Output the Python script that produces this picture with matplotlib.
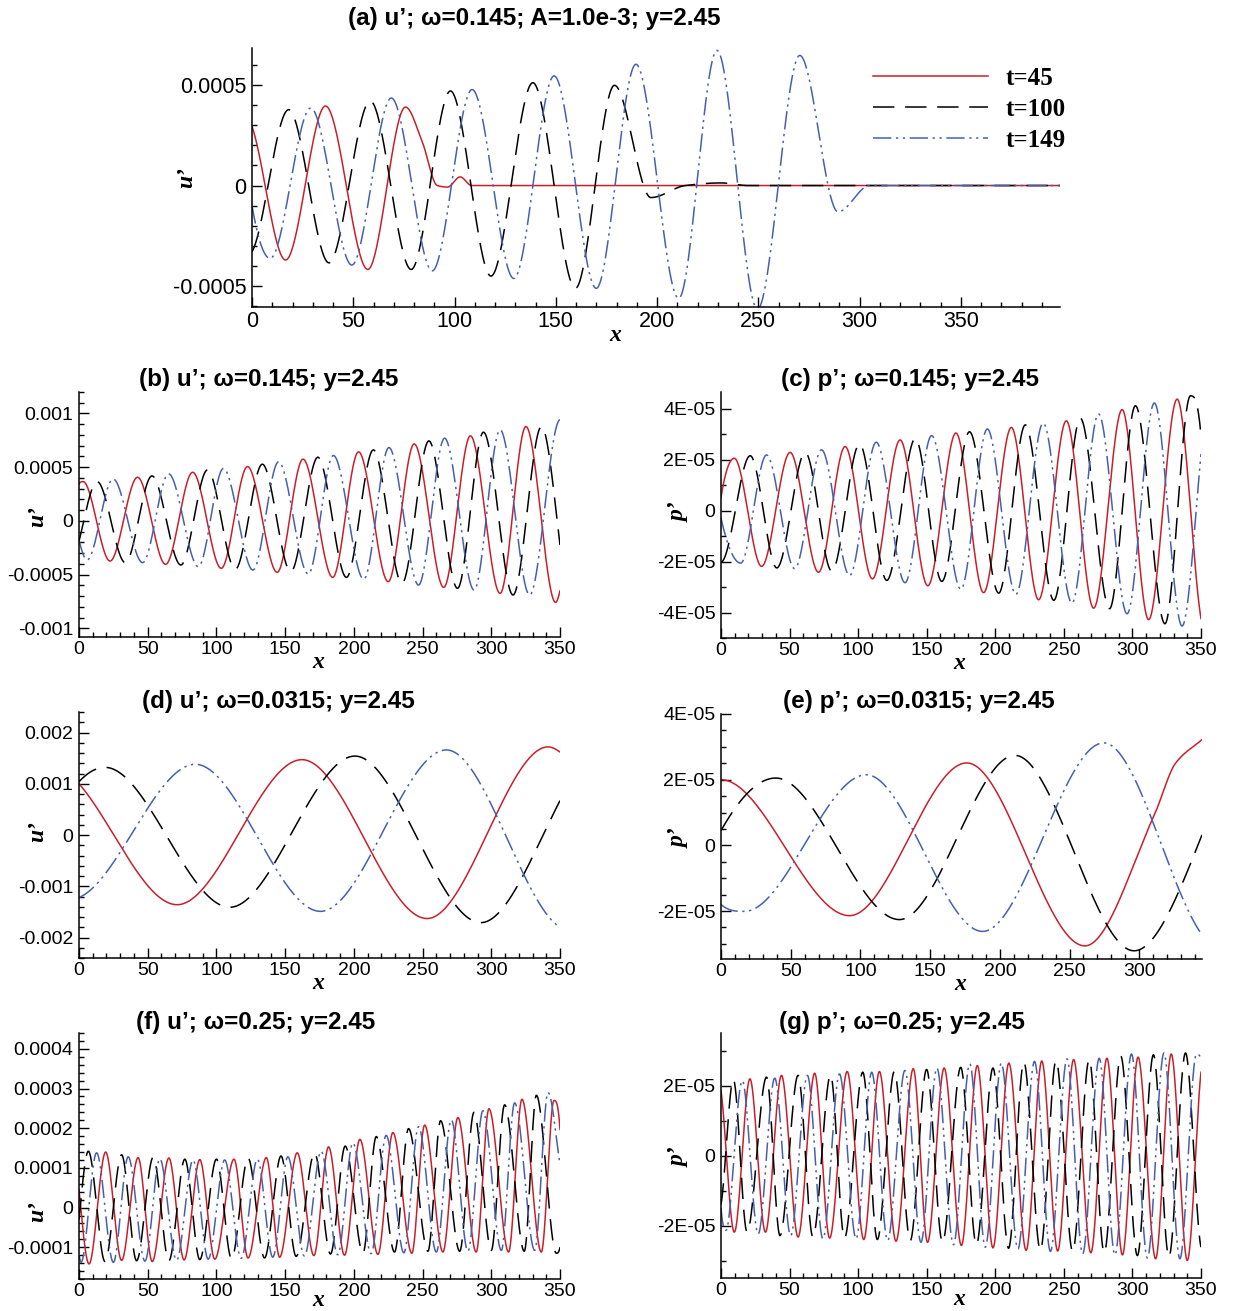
import numpy as np
import matplotlib
matplotlib.use("Agg")
import matplotlib.pyplot as plt
from matplotlib.ticker import MultipleLocator

# Extrema (x, value) of each profile. Values are in the panel's unit (scale below).

# (a) u', omega=0.145, A=1.0e-3, units of 1e-4
a_t45 = [(0, 2.95), (16.6, -3.71), (36.3, 3.96), (57.2, -4.18), (75.8, 3.91), (84.0, 2.2),
         (91.5, 0.0), (96.5, -0.08), (102.8, 0.43), (108.5, 0.0), (399, 0.0)]
a_t100 = [(0, -3.3), (18.1, 3.78), (38.0, -3.85), (58.4, 4.21), (78.6, -4.18), (98.0, 4.71),
          (118.0, -4.51), (138.7, 5.12), (159.7, -5.12), (179.0, 4.99), (197.0, -0.6),
          (214.0, 0.0), (231.6, 0.13), (245.0, 0.0), (399, 0.0)]
a_t149 = [(0, -1.0), (9.0, -3.63), (29.0, 3.86), (49.3, -3.96), (68.8, 4.36), (89.0, -4.25),
          (108.7, 4.78), (129.3, -4.63), (149.2, 5.46), (170.0, -5.12), (189.6, 6.04),
          (210.7, -5.62), (229.6, 6.73), (249.6, -6.15), (270.5, 6.48), (289.4, -1.31),
          (305.0, 0.0), (399, 0.0)]

# (b) u', omega=0.145, units of 1e-4
b_t45 = [(0, 3.45), (3.0, 3.66), (22.6, -3.73), (42.6, 4.07), (63.0, -4.04), (82.7, 4.53),
         (103.5, -4.41), (122.6, 5.06), (144.2, -4.78), (163.0, 5.75), (184.6, -5.25),
         (203.4, 6.43), (225.0, -5.65), (243.9, 7.17), (265.4, -6.18), (284.8, 7.92),
         (306.4, -6.74), (325.2, 8.79), (346.8, -7.58), (350.0, -6.5)]
b_t100 = [(0, -1.9), (13.2, 3.66), (33.7, -3.88), (53.1, 4.19), (74.1, -4.1), (93.5, 4.75),
          (113.7, -4.5), (133.4, 5.28), (154.1, -4.72), (173.8, 5.93), (194.6, -5.25),
          (214.2, 6.61), (235.0, -5.81), (254.6, 7.45), (275.4, -6.27), (294.3, 8.26),
          (315.8, -6.89), (336.5, 8.79), (350.0, -2.24)]
b_t149 = [(0, -1.77), (5.9, -3.63), (24.8, 3.91), (46.3, -3.88), (65.2, 4.38), (86.8, -4.25),
          (105.1, 4.88), (126.6, -4.57), (145.2, 5.5), (166.8, -4.94), (185.1, 6.09),
          (207.2, -5.43), (225.5, 6.83), (247.1, -5.96), (266.0, 7.7), (287.5, -6.43),
          (306.4, 8.48), (327.9, -6.89), (350.0, 9.41)]

# (c) p', omega=0.145, units of 1e-5
c_t45 = [(0, 0.52), (9.7, 2.05), (29.6, -2.19), (50.4, 2.28), (71.1, -2.42), (90.5, 2.51),
         (110.4, -2.68), (130.6, 2.77), (150.8, -2.95), (171.3, 3.04), (191.5, -3.22),
         (211.7, 3.26), (231.6, -3.5), (251.8, 3.52), (271.7, -3.83), (292.5, 3.96),
         (311.8, -4.28), (332.6, 4.37), (350.0, -4.24)]
c_t100 = [(0, -2.02), (21.3, 2.15), (40.7, -2.25), (61.4, 2.28), (80.8, -2.38), (101.0, 2.61),
          (120.9, -2.74), (141.7, 2.83), (161.0, -2.78), (181.2, 3.09), (202.5, -3.24),
          (221.9, 3.36), (242.7, -3.52), (262.0, 3.62), (283.3, -3.85), (302.2, 4.11),
          (323.7, -4.44), (342.3, 4.5), (350.0, 2.94)]
c_t149 = [(0, -0.3), (14.4, -2.06), (33.2, 2.18), (53.7, -2.28), (73.3, 2.38), (93.8, -2.55),
          (113.2, 2.68), (134.2, -2.83), (153.6, 2.94), (174.9, -3.09), (194.2, 3.2),
          (215.0, -3.29), (234.9, 3.43), (255.9, -3.63), (275.3, 3.79), (296.1, -4.05),
          (316.0, 4.22), (336.2, -4.53), (350.0, 2.22)]

# (d) u', omega=0.0315, units of 1e-3
d_t45 = [(0, 1.0), (71.4, -1.36), (162.2, 1.47), (253.3, -1.63), (341.4, 1.72), (350.0, 1.62)]
d_t100 = [(0, 1.04), (18.9, 1.32), (109.7, -1.41), (200.8, 1.54), (292.4, -1.71), (350.0, 0.67)]
d_t149 = [(0, -1.22), (84.6, 1.38), (175.7, -1.49), (267.3, 1.66), (350.0, -1.8)]

# (e) p', omega=0.0315, units of 1e-5
e_t45 = [(0, 2.0), (92.2, -2.14), (176.3, 2.51), (261.0, -3.06), (311.0, 0.95), (326.0, 2.5),
         (345.0, 3.22)]
e_t100 = [(0, 0.45), (39.3, 2.05), (128.0, -2.26), (210.8, 2.74), (296.3, -3.21), (345.0, 0.32)]
e_t149 = [(0, -1.8), (16.8, -2.01), (104.2, 2.15), (187.7, -2.62), (274.5, 3.12), (345.0, -2.72)]

# (f) u', omega=0.25, units of 1e-4
f_t45 = [(0, 0.44), (7.3, -1.42), (19.4, 1.40), (31.0, -1.33), (43.0, 1.26), (53.3, -1.36),
         (65.4, 1.25), (76.5, -1.32), (87.9, 1.21), (98.8, -1.30), (112.8, 1.22), (123.0, -1.27),
         (136.3, 1.26), (146.0, -1.25), (158.8, 1.38), (170.9, -1.21), (181.6, 1.53),
         (193.2, -1.2), (204.4, 1.72), (217.5, -1.18), (228.4, 1.89), (242.2, -1.15),
         (251.5, 2.08), (264.8, -1.12), (275.7, 2.27), (289.0, -1.12), (298.3, 2.49),
         (312.6, -1.12), (322.3, 2.73), (336.4, -1.12), (345.6, 2.70), (350.0, 1.97)]
f_t100 = [(0, -0.3), (6.8, 1.42), (18.9, -1.36), (31.0, 1.33), (41.9, -1.34), (54.0, 1.27),
          (65.4, -1.34), (77.0, 1.22), (87.9, -1.31), (100.0, 1.22), (111.0, -1.29), (123.0, 1.25),
          (135.0, -1.27), (147.0, 1.3), (158.0, -1.23), (171.4, 1.38), (183.0, -1.17),
          (193.7, 1.55), (206.6, -1.15), (216.3, 1.79), (229.6, -1.12), (239.8, 1.99),
          (253.9, -1.1), (263.1, 2.19), (277.0, -1.1), (287.4, 2.40), (300.0, -1.08),
          (309.7, 2.59), (324.0, -1.1), (332.8, 2.83), (347.3, -1.15), (350.0, -1.0)]
f_t149 = [(0, -1.2), (1.5, -1.38), (12.8, 1.38), (25.0, -1.38), (35.8, 1.28), (48.0, -1.35),
          (58.8, 1.23), (71.0, -1.33), (83.0, 1.2), (94.0, -1.3), (106.0, 1.2), (118.0, -1.28),
          (129.8, 1.22), (141.0, -1.25), (152.0, 1.28), (164.0, -1.22), (176.2, 1.42),
          (188.3, -1.19), (199.3, 1.63), (212.6, -1.16), (223.5, 1.82), (236.4, -1.14),
          (247.1, 2.04), (260.0, -1.12), (270.9, 2.21), (283.0, -1.1), (293.9, 2.44),
          (307.3, -1.08), (317.0, 2.64), (331.6, -1.08), (341.3, 2.90), (350.0, 1.1)]

# (g) p', omega=0.25, units of 1e-5
g_t45 = [(0, 1.85), (9.7, -2.19), (21.1, 2.19), (32.4, -2.19), (44.1, 2.29), (56.2, -2.33),
         (68.3, 2.35), (79.2, -2.36), (92.0, 2.4), (104.1, -2.4), (115.5, 2.4), (127.6, -2.45),
         (140.2, 2.48), (150.6, -2.48), (162.7, 2.5), (175.3, -2.57), (186.9, 2.57),
         (198.3, -2.64), (209.9, 2.64), (222.5, -2.71), (233.9, 2.7), (245.5, -2.73),
         (257.1, 2.74), (269.7, -2.78), (281.4, 2.78), (292.7, -2.84), (304.1, 2.81),
         (316.9, -2.95), (328.3, 2.9), (340.0, -3.0), (350.0, 2.38)]
g_t100 = [(0, -1.4), (9.0, 2.17), (19.0, -2.19), (33.2, 2.24), (43.0, -2.29), (56.2, 2.29),
          (67.0, -2.33), (79.9, 2.3), (90.0, -2.36), (103.4, 2.38), (114.0, -2.4), (126.4, 2.4),
          (138.0, -2.43), (149.9, 2.46), (161.5, -2.48), (174.8, 2.52), (186.2, -2.55),
          (198.3, 2.5), (209.7, -2.65), (220.8, 2.67), (232.9, -2.71), (244.3, 2.71),
          (256.4, -2.74), (268.5, 2.74), (279.4, -2.78), (291.5, 2.84), (303.6, -2.86),
          (315.3, 2.88), (326.6, -2.9), (338.7, 2.93), (350.0, -2.62)]
g_t149 = [(0, -1.5), (3.6, -2.14), (15.5, 2.14), (27.1, -2.24), (39.2, 2.21), (50.8, -2.29),
          (63.0, 2.29), (74.3, -2.38), (86.4, 2.33), (98.5, -2.38), (109.9, 2.38), (121.5, -2.43),
          (134.1, 2.43), (145.8, -2.48), (157.4, 2.5), (169.5, -2.55), (181.4, 2.62),
          (192.7, -2.62), (204.4, 2.64), (216.5, -2.67), (228.6, 2.69), (240.2, -2.74),
          (252.3, 2.76), (263.7, -2.81), (275.8, 2.78), (287.2, -2.84), (299.3, 2.9),
          (310.9, -2.93), (323.0, 2.93), (334.6, -2.95), (346.7, 2.9), (350.0, 2.75)]

labels = ["t=45", "t=100", "t=149"]
titles = ["(a) u\u2019; \u03c9=0.145; A=1.0e-3; y=2.45",
          "(b) u\u2019; \u03c9=0.145; y=2.45", "(c) p\u2019; \u03c9=0.145; y=2.45",
          "(d) u\u2019; \u03c9=0.0315; y=2.45", "(e) p\u2019; \u03c9=0.0315; y=2.45",
          "(f) u\u2019; \u03c9=0.25; y=2.45", "(g) p\u2019; \u03c9=0.25; y=2.45"]
ylabels = ["u\u2019", "u\u2019", "p\u2019", "u\u2019", "p\u2019", "u\u2019", "p\u2019"]
scales = [1e-4, 1e-4, 1e-5, 1e-3, 1e-5, 1e-4, 1e-5]
xmax = [399, 350, 350, 350, 345, 350, 350]
ylims = [(-6.05e-4, 6.85e-4), (-1.08e-3, 1.2e-3), (-5.0e-5, 4.65e-5), (-2.4e-3, 2.4e-3),
         (-3.46e-5, 4.0e-5), (-1.8e-4, 4.4e-4), (-3.5e-5, 3.5e-5)]
yticks = [[-5e-4, 0, 5e-4], [-1e-3, -5e-4, 0, 5e-4, 1e-3], [-4e-5, -2e-5, 0, 2e-5, 4e-5],
          [-2e-3, -1e-3, 0, 1e-3, 2e-3], [-2e-5, 0, 2e-5, 4e-5],
          [-1e-4, 0, 1e-4, 2e-4, 3e-4, 4e-4], [-2e-5, 0, 2e-5]]
yticklabels = [["-0.0005", "0", "0.0005"], ["-0.001", "-0.0005", "0", "0.0005", "0.001"],
               ["-4E-05", "-2E-05", "0", "2E-05", "4E-05"],
               ["-0.002", "-0.001", "0", "0.001", "0.002"], ["-2E-05", "0", "2E-05", "4E-05"],
               ["-0.0001", "0", "0.0001", "0.0002", "0.0003", "0.0004"], ["-2E-05", "0", "2E-05"]]
yminor = [1e-4, 1e-4, 1e-5, 2e-4, 5e-6, 2e-5, 1e-5]
curves = [(a_t45, a_t100, a_t149), (b_t45, b_t100, b_t149), (c_t45, c_t100, c_t149),
          (d_t45, d_t100, d_t149), (e_t45, e_t100, e_t149), (f_t45, f_t100, f_t149),
          (g_t45, g_t100, g_t149)]

RED = "#c8202a"
BLUE = "#4660b0"
line_styles = [dict(color=RED, lw=1.1, ls="-"),
               dict(color="black", lw=1.1, dashes=(14, 7)),
               dict(color=BLUE, lw=1.1, dashes=(12, 3, 1.5, 3, 1.5, 3))]

W, H = 1235, 1311
# axes boxes in pixels: left, top, right, bottom
boxes = [(252, 48, 1060, 307), (79, 392, 560, 637), (721, 392, 1201, 638),
         (79, 712, 560, 958), (721, 714, 1202, 959), (79, 1033, 560, 1279),
         (721, 1033, 1201, 1278)]
title_pos = [(534, 18), (269, 380), (910, 380), (278, 701), (919, 701), (256, 1022), (902, 1022)]
ylabel_pos = [(187, 178), (38, 517), (679, 512), (38, 832), (679, 838), (38, 1212), (679, 1157)]
xlabel_y = [-0.07, -0.062, -0.062, -0.062, -0.062, -0.045, -0.045]


def end_slope(xe, x1, y1, x2, y2, s_near, s_next):
    # slope at a profile end, taken from the half wave next to it
    if s_near == 0:
        return 0.0
    if s_near * s_next >= 0:
        return s_near
    L = abs(x2 - x1)
    if abs(xe - x1) >= L:
        return 0.0
    A = (y1 - y2) / 2
    d = -A * np.pi / L * np.sin(np.pi * (xe - x1) / L)
    if d * s_near < 0:
        return 0.0
    return float(np.clip(d, -3 * abs(s_near), 3 * abs(s_near)))


def wave(nodes, num=3000):
    # monotone cubic Hermite through the extrema
    x = np.array([p[0] for p in nodes], float)
    y = np.array([p[1] for p in nodes], float)
    n = len(x)
    h = np.diff(x)
    s = np.diff(y) / h
    m = np.zeros(n)
    for k in range(1, n - 1):
        if s[k - 1] * s[k] > 0:
            w1 = 2 * h[k] + h[k - 1]
            w2 = h[k] + 2 * h[k - 1]
            m[k] = (w1 + w2) / (w1 / s[k - 1] + w2 / s[k])
    m[0] = end_slope(x[0], x[1], y[1], x[2], y[2], s[0], s[1])
    m[-1] = end_slope(x[-1], x[-2], y[-2], x[-3], y[-3], s[-1], s[-2])
    xs = np.linspace(x[0], x[-1], num)
    i = np.clip(np.searchsorted(x, xs, side="right") - 1, 0, n - 2)
    t = (xs - x[i]) / h[i]
    h00 = 2 * t**3 - 3 * t**2 + 1
    h10 = t**3 - 2 * t**2 + t
    h01 = -2 * t**3 + 3 * t**2
    h11 = t**3 - t**2
    ys = h00 * y[i] + h10 * h[i] * m[i] + h01 * y[i + 1] + h11 * h[i] * m[i + 1]
    return xs, ys


plt.rcParams["font.family"] = "Liberation Sans"
fig = plt.figure(figsize=(W / 100, H / 100), dpi=100)

for p in range(7):
    l, t, r, b = boxes[p]
    ax = fig.add_axes([l / W, 1 - b / H, (r - l) / W, (b - t) / H])
    for nodes, st, lab in zip(curves[p], line_styles, labels):
        xs, ys = wave(nodes)
        ax.plot(xs, ys * scales[p], label=lab, **st)

    big = p == 0
    tick_fs = 15.5 if big else 14
    ax.set_xlim(0, xmax[p])
    ax.set_ylim(*ylims[p])
    xt = list(range(0, int(xmax[p]) + 1, 50))
    ax.set_xticks(xt)
    ax.set_xticklabels([str(v) for v in xt])
    ax.set_yticks(yticks[p])
    ax.set_yticklabels(yticklabels[p])
    ax.xaxis.set_minor_locator(MultipleLocator(10))
    ax.yaxis.set_minor_locator(MultipleLocator(yminor[p]))
    ax.tick_params(which="both", direction="in", width=1.0, labelsize=tick_fs)
    ax.tick_params(which="major", length=7)
    ax.tick_params(which="minor", length=3.5)
    ax.tick_params(axis="y", pad=4)
    ax.tick_params(axis="x", pad=3)
    for side in ("top", "right"):
        ax.spines[side].set_visible(False)
    for side in ("left", "bottom"):
        ax.spines[side].set_linewidth(1.1)

    ax.set_xlabel("x", family="Liberation Serif", style="italic", weight="bold", fontsize=17)
    cx = (615 - l) / (r - l) if big else 0.497
    ax.xaxis.set_label_coords(cx, xlabel_y[p])

    lx, ly = ylabel_pos[p]
    fig.text(lx / W, 1 - ly / H, ylabels[p], rotation=90,
             family="Liberation Serif", style="italic", weight="bold", fontsize=17,
             ha="center", va="center")
    tx, ty = title_pos[p]
    fig.text(tx / W, 1 - ty / H, titles[p], fontsize=17.5, weight="bold",
             ha="center", va="center")

    if big:
        ax.legend(loc="upper left", bbox_to_anchor=((873 - l) / (r - l), 1 - (67 - t) / (b - t)),
                  frameon=False, borderpad=0, borderaxespad=0, handlelength=4.6,
                  handletextpad=0.7, labelspacing=0.32,
                  prop=dict(family="Liberation Serif", weight="bold", size=18))

fig.savefig("out.png", dpi=100)
